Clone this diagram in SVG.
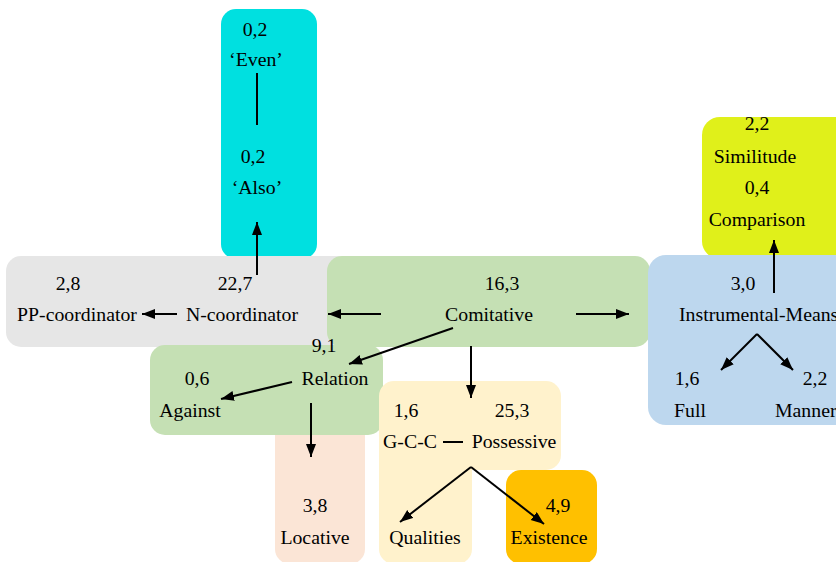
<svg xmlns="http://www.w3.org/2000/svg" width="836" height="562" viewBox="0 0 836 562">
<style>
text{font-family:"Liberation Serif","Times New Roman",serif;font-size:19.8px;fill:#000;text-anchor:middle}
.s{text-anchor:start}
.c{stroke:#000;stroke-width:2;fill:none}
.a{marker-end:url(#ah)}
</style>
<defs>
<marker id="ah" markerUnits="userSpaceOnUse" markerWidth="14" markerHeight="12" refX="13" refY="5" orient="auto">
<path d="M0,0 L13,5 L0,10 Z" fill="#000"/>
</marker>
</defs>
<rect width="836" height="562" fill="#fff"/>
<g id="bg">
<rect id="cyanBox" x="221" y="9" width="96" height="250" rx="15" fill="#00e0e0"/>
<rect id="grayBox" x="6" y="256" width="345" height="91" rx="15" fill="#e6e6e6"/>
<rect id="yellowBox" x="702" y="117" width="150" height="142" rx="18" fill="#e0f01a"/>
<rect id="comBox" x="327" y="256" width="323" height="91" rx="15" fill="#c5e0b4"/>
<rect id="blueBox" x="648" y="255" width="210" height="170" rx="18" fill="#bdd7ee"/>
<rect id="locBox" x="275" y="380" width="90" height="184" rx="15" fill="#fbe5d6"/>
<rect id="relBox" x="150" y="345" width="233" height="90" rx="15" fill="#c5e0b4"/>
<rect id="posBox1" x="379" y="381" width="182" height="89" rx="15" fill="#fff2cc"/>
<rect id="posBox2" x="379" y="420" width="93" height="144" rx="15" fill="#fff2cc"/>
<rect id="exBox" x="506" y="470" width="91" height="94" rx="15" fill="#ffc000"/>
</g>
<g id="connectors">
<line class="c" x1="257" y1="73" x2="257" y2="125"/>
<line class="c a" x1="257" y1="275" x2="257" y2="222"/>
<line class="c a" x1="177" y1="314" x2="142" y2="314"/>
<line class="c a" x1="381" y1="314" x2="328" y2="314"/>
<line class="c a" x1="576" y1="314" x2="629" y2="314"/>
<line class="c a" x1="453" y1="328" x2="349" y2="364"/>
<line class="c a" x1="292" y1="382" x2="221" y2="399"/>
<line class="c a" x1="311" y1="403" x2="311" y2="457"/>
<line class="c a" x1="471" y1="346" x2="471" y2="398"/>
<line class="c" x1="443" y1="442" x2="463" y2="442"/>
<line class="c a" x1="471" y1="467" x2="400" y2="522"/>
<line class="c a" x1="471" y1="467" x2="544" y2="524"/>
<line class="c a" x1="774" y1="293" x2="774" y2="240"/>
<line class="c a" x1="757" y1="334" x2="721" y2="370"/>
<line class="c a" x1="757" y1="334" x2="793" y2="370"/>
</g>
<g id="even"><text x="255" y="36">0,2</text><text x="256" y="66">‘Even’</text></g>
<g id="also"><text x="253" y="163">0,2</text><text x="257" y="194">‘Also’</text></g>
<g id="pp"><text x="68" y="290">2,8</text><text x="77" y="321">PP-coordinator</text></g>
<g id="ncoord"><text x="235" y="290">22,7</text><text x="242" y="321">N-coordinator</text></g>
<g id="comitative"><text x="502" y="290">16,3</text><text x="489" y="321">Comitative</text></g>
<g id="relation"><text x="324" y="352">9,1</text><text x="335" y="385">Relation</text></g>
<g id="against"><text x="197" y="385">0,6</text><text x="190" y="417">Against</text></g>
<g id="locative"><text x="315" y="512">3,8</text><text x="315" y="544">Locative</text></g>
<g id="gcc"><text x="406" y="417">1,6</text><text x="410" y="448">G-C-C</text></g>
<g id="possessive"><text x="512" y="417">25,3</text><text x="514" y="448">Possessive</text></g>
<g id="qualities"><text x="425" y="544">Qualities</text></g>
<g id="existence"><text x="558" y="512">4,9</text><text x="549" y="544">Existence</text></g>
<g id="similitude"><text x="757" y="130">2,2</text><text x="755" y="163">Similitude</text></g>
<g id="comparison"><text x="757" y="194">0,4</text><text x="757" y="226">Comparison</text></g>
<g id="instrumental"><text x="743" y="290">3,0</text><text class="s" x="679" y="321">Instrumental-Means</text></g>
<g id="full"><text x="687" y="385">1,6</text><text x="690" y="417">Full</text></g>
<g id="manner"><text x="815" y="385">2,2</text><text class="s" x="775" y="417">Manner</text></g>
</svg>
